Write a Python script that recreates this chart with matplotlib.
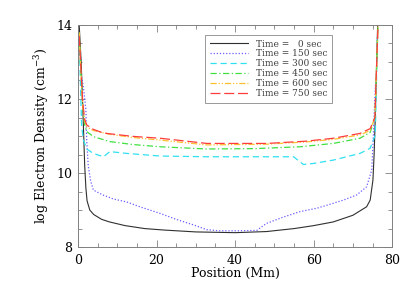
import matplotlib
matplotlib.use('Agg')
import matplotlib.pyplot as plt
from matplotlib.ticker import MultipleLocator

# Elektronendichtheid langs de lus, log(cm^-3), per tijdstip
x_t0 = [0.3, 0.8, 1.3, 1.7, 2.0, 2.3, 3, 4, 6, 8, 12, 17, 22, 30, 40, 48, 55, 60, 65, 70,
        73.5, 74.4, 75.1, 75.4, 75.7, 76.0, 76.3]
y_t0 = [14.0, 13.0, 11.5, 10.2, 9.6, 9.25, 9.0, 8.88, 8.75, 8.68, 8.58, 8.5, 8.46, 8.41,
        8.39, 8.42, 8.5, 8.58, 8.68, 8.86, 9.09, 9.27, 9.81, 10.5, 11.5, 12.8, 14.0]

x_t150 = [0.9, 1.4, 2.0, 2.2, 2.6, 3.2, 3.9, 6.5, 9, 12.4, 16, 20.9, 25, 29.4, 32.8, 36, 40,
          45.5, 48, 52, 56.6, 60.8, 64, 67.6, 71, 73.5, 74.8, 75.2, 75.5, 75.8]
y_t150 = [12.6, 12.3, 11.7, 10.9, 10.2, 9.8, 9.54, 9.4, 9.3, 9.22, 9.08, 8.91, 8.75, 8.6,
          8.47, 8.44, 8.44, 8.45, 8.64, 8.8, 8.96, 9.05, 9.15, 9.27, 9.41, 9.63, 10.08,
          10.98, 11.8, 12.5]

x_t300 = [0.3, 0.6, 0.9, 1.35, 2.2, 3.9, 6.5, 8.1, 12.4, 20.9, 32.8, 45, 54.9, 57.4, 60, 65,
          71.8, 74.4, 75.7, 76.0, 76.3]
y_t300 = [13.6, 12.5, 11.3, 10.9, 10.65, 10.53, 10.44, 10.58, 10.53, 10.46, 10.44, 10.44,
          10.44, 10.23, 10.26, 10.35, 10.53, 10.67, 11.03, 12.5, 13.8]

x_t450 = [0.3, 0.7, 1.2, 1.7, 2.2, 4, 8.1, 14, 20.9, 32.8, 45, 56.6, 65, 71.8, 74.4, 75.6,
          76.0, 76.4]
y_t450 = [13.8, 12.8, 11.8, 11.3, 11.12, 10.98, 10.85, 10.77, 10.71, 10.65, 10.66, 10.71,
          10.8, 10.94, 11.1, 11.5, 12.8, 14.0]

x_t600 = [0.3, 0.7, 1.2, 1.7, 2.2, 3.9, 8, 14, 20.9, 32.8, 48, 58, 65, 71.8, 74.4, 75.6,
          76.0, 76.4]
y_t600 = [13.8, 12.8, 11.8, 11.4, 11.25, 11.15, 11.05, 10.96, 10.89, 10.76, 10.78, 10.84,
          10.91, 11.03, 11.15, 11.5, 12.8, 14.0]

x_t750 = [0.3, 0.7, 1.2, 1.7, 2.2, 3.9, 6.5, 14, 20.9, 32.8, 48, 58, 65, 71.8, 74.4, 75.6,
          76.0, 76.4]
y_t750 = [13.7, 12.9, 11.9, 11.45, 11.3, 11.18, 11.08, 10.99, 10.94, 10.8, 10.8, 10.86,
          10.94, 11.07, 11.2, 11.5, 12.8, 14.0]

labels = ['Time =   0 sec', 'Time = 150 sec', 'Time = 300 sec',
          'Time = 450 sec', 'Time = 600 sec', 'Time = 750 sec']

plt.rcParams['font.family'] = ['DejaVu Serif']
plt.rcParams['mathtext.fontset'] = 'dejavuserif'

fig = plt.figure(figsize=(4.15, 2.97), dpi=100)
ax = fig.add_axes([0.188, 0.168, 0.757, 0.748])

# lijnen: kleur, stijl
ax.plot(x_t0, y_t0, color='#303030', lw=0.8, ls='-', label=labels[0])
ax.plot(x_t150, y_t150, color='#6a5cff', lw=0.9, ls=(0, (1, 1.5)), label=labels[1])
ax.plot(x_t300, y_t300, color='#30e0f0', lw=0.9, ls=(0, (5, 3)), label=labels[2])
ax.plot(x_t450, y_t450, color='#40e040', lw=0.9, ls=(0, (5, 2, 1, 2)), label=labels[3])
ax.plot(x_t600, y_t600, color='#ffc030', lw=0.9, ls=(0, (5, 1.5, 1, 1.5, 1, 1.5)), label=labels[4])
ax.plot(x_t750, y_t750, color='#ff3c3c', lw=0.9, ls=(0, (8, 3)), label=labels[5])

ax.set_xlim(0, 80)
ax.set_ylim(8, 14)
ax.xaxis.set_major_locator(MultipleLocator(20))
ax.xaxis.set_minor_locator(MultipleLocator(5))
ax.yaxis.set_major_locator(MultipleLocator(2))
ax.yaxis.set_minor_locator(MultipleLocator(0.5))
ax.tick_params(which='both', direction='in', top=True, right=True, color='#808080',
               labelsize=9)
ax.tick_params(axis='x', pad=5)
ax.tick_params(axis='y', pad=4)
ax.tick_params(which='major', length=5, width=0.6)
ax.tick_params(which='minor', length=3, width=0.6)
for s in ax.spines.values():
    s.set_color('#808080')
    s.set_linewidth(0.7)

ax.set_xlabel('Position (Mm)', fontsize=9, labelpad=0)
ax.set_ylabel('log Electron Density (cm$^{-3}$)', fontsize=9, labelpad=4)

leg = ax.legend(loc='upper left', bbox_to_anchor=(0.39, 0.975), fontsize=6.5,
                frameon=True, fancybox=False, handlelength=4.3, handletextpad=0.8,
                labelspacing=0.1, borderpad=0.5)
leg.get_frame().set_edgecolor('#808080')
leg.get_frame().set_linewidth(0.7)
for t in leg.get_texts():
    t.set_color('#404040')

fig.savefig('out.png', dpi=100)
